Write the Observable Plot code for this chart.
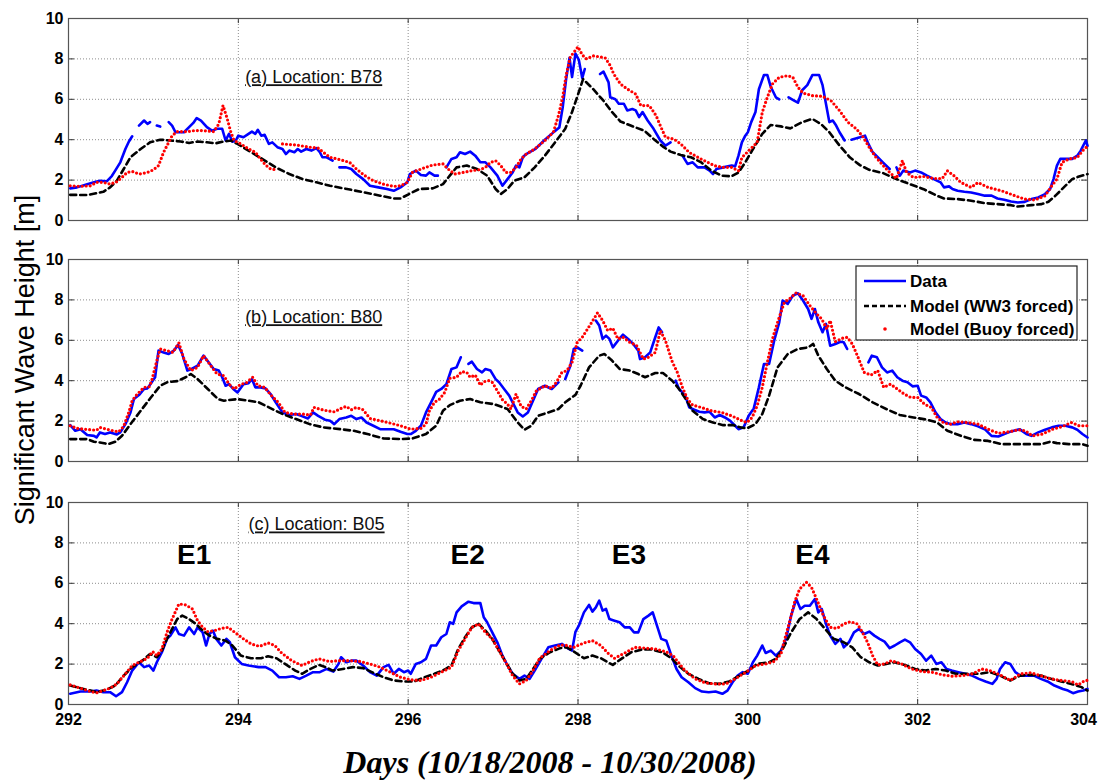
<!DOCTYPE html>
<html><head><meta charset="utf-8">
<script src="https://cdn.jsdelivr.net/npm/d3@7"></script>
<script src="https://cdn.jsdelivr.net/npm/@observablehq/plot@0.6"></script>
<style>
body{margin:0;background:#fff;}
#wrap{position:relative;width:1099px;height:780px;overflow:hidden;background:#fff;font-family:"Liberation Sans",Arial,sans-serif;}
#wrap svg.pan{position:absolute;left:0;}
</style></head><body><div id="wrap"></div>
<script>
const dayTicks=[292,294,296,298,300,302,304];
const heightTicks=[0,2,4,6,8,10];
const gridDays=[294,296,298,300,302];
const gridHeights=[2,4,6,8];
const seriesNames=["Data","Model (WW3 forced)","Model (Buoy forced)"];
const panelLabels=["(a) Location: B78","(b) Location: B80","(c) Location: B05"];
const eventNames=["E1","E2","E3","E4"];
const eventDays=[293.48,296.7,298.6,300.76];

// ---------- B78 ----------
const b78Data=[[292.02,1.59],[292.1,1.64],[292.22,1.8],[292.3,1.89],[292.37,1.97],[292.45,1.94],[292.51,2.2],[292.55,2.47],[292.61,2.88],[292.67,3.54],[292.71,3.9],[292.75,4.17],[292.79,null],
[292.83,4.7],[292.89,4.95],[292.93,4.78],[292.96,4.87],[293.0,null],
[293.04,4.7],[293.08,4.65],[293.13,null],
[293.18,4.87],[293.22,4.7],[293.26,4.37],[293.36,4.37],[293.42,4.62],[293.47,4.83],[293.51,5.07],[293.56,4.95],[293.63,4.62],[293.69,4.45],[293.75,4.54],[293.81,4.54],[293.85,3.96],[293.89,4.29],[293.93,3.9],[293.97,3.96],[294.0,4.2],[294.06,4.12],[294.12,4.29],[294.16,4.4],[294.2,4.29],[294.23,4.49],[294.27,4.2],[294.31,4.24],[294.36,3.79],[294.4,3.87],[294.46,3.63],[294.52,3.54],[294.56,3.29],[294.6,3.46],[294.66,3.38],[294.7,3.54],[294.74,3.41],[294.8,3.54],[294.86,3.46],[294.92,3.58],[294.96,3.38],[294.99,3.13],[295.04,3.13],[295.11,2.96],[295.15,null],
[295.19,2.63],[295.27,2.63],[295.33,2.55],[295.39,2.3],[295.47,2.05],[295.55,1.72],[295.65,1.64],[295.75,1.56],[295.83,1.47],[295.91,1.64],[295.99,1.89],[296.02,2.3],[296.09,2.47],[296.15,2.25],[296.21,2.22],[296.25,2.38],[296.31,2.22],[296.35,2.22],[296.4,null],
[296.45,2.63],[296.51,3.05],[296.57,3.13],[296.61,3.38],[296.67,3.29],[296.73,3.41],[296.79,3.21],[296.85,2.88],[296.91,2.88],[296.97,2.63],[297.05,2.22],[297.11,1.72],[297.17,2.05],[297.23,2.38],[297.27,2.72],[297.31,2.63],[297.35,3.13],[297.39,3.29],[297.5,3.55],[297.61,4.0],[297.72,4.4],[297.78,4.6],[297.82,5.6],[297.86,7.0],[297.9,8.05],[297.93,7.1],[297.97,8.26],[298.01,7.95],[298.05,7.05],[298.08,7.5],[298.12,null],
[298.26,7.25],[298.3,7.37],[298.36,6.84],[298.38,6.1],[298.44,6.0],[298.48,5.78],[298.54,5.78],[298.58,5.45],[298.64,5.52],[298.68,5.45],[298.72,5.12],[298.76,5.37],[298.82,4.95],[298.89,4.54],[298.97,3.96],[299.03,3.71],[299.09,3.87],[299.15,null],
[299.23,3.21],[299.29,2.8],[299.35,2.88],[299.41,2.63],[299.49,2.63],[299.55,2.47],[299.59,2.3],[299.63,2.55],[299.71,2.63],[299.81,2.72],[299.85,2.68],[299.89,3.21],[299.93,3.87],[299.97,4.2],[300.0,4.37],[300.04,4.87],[300.09,5.37],[300.13,6.5],[300.19,7.2],[300.23,7.2],[300.27,6.62],[300.33,6.1],[300.37,6.0],[300.42,null],
[300.48,6.1],[300.54,5.95],[300.59,5.83],[300.64,6.45],[300.7,6.7],[300.76,7.2],[300.84,7.2],[300.88,6.7],[300.92,5.78],[300.96,4.87],[301.0,4.95],[301.04,4.7],[301.08,4.37],[301.14,3.96],[301.18,null],
[301.22,4.0],[301.32,4.12],[301.38,4.2],[301.42,3.79],[301.47,3.38],[301.53,3.13],[301.59,2.88],[301.67,2.55],[301.71,null],
[301.75,2.63],[301.79,2.22],[301.83,2.47],[301.91,2.38],[301.97,2.47],[302.04,2.38],[302.11,2.22],[302.19,2.05],[302.27,1.89],[302.31,1.64],[302.37,1.69],[302.41,1.56],[302.47,1.47],[302.55,1.42],[302.63,1.39],[302.71,1.31],[302.79,1.23],[302.87,1.23],[302.94,1.09],[303.02,1.03],[303.1,0.94],[303.18,0.89],[303.26,0.92],[303.34,1.06],[303.42,1.14],[303.5,1.31],[303.56,1.56],[303.6,2.05],[303.64,2.72],[303.68,3.05],[303.76,3.05],[303.82,3.05],[303.88,3.21],[303.92,3.46],[303.98,3.96],[304.0,3.7]];
const b78WW3=[[292.02,1.27],[292.22,1.26],[292.41,1.42],[292.49,1.64],[292.57,1.97],[292.65,2.55],[292.73,3.13],[292.85,3.54],[292.96,3.87],[293.08,4.0],[293.2,3.96],[293.32,3.91],[293.42,3.84],[293.52,3.91],[293.63,3.87],[293.73,3.82],[293.83,3.91],[293.91,3.96],[293.99,3.79],[294.12,3.46],[294.28,3.05],[294.44,2.63],[294.6,2.3],[294.76,2.05],[294.92,1.89],[295.08,1.72],[295.28,1.56],[295.48,1.39],[295.67,1.23],[295.83,1.09],[295.91,1.09],[296.01,1.31],[296.13,1.56],[296.29,1.59],[296.41,1.8],[296.49,2.22],[296.57,2.63],[296.69,2.72],[296.81,2.55],[296.93,2.22],[297.03,1.56],[297.09,1.31],[297.17,1.56],[297.25,1.97],[297.37,2.14],[297.49,2.63],[297.61,3.21],[297.73,3.87],[297.85,4.54],[297.93,5.37],[298.01,6.36],[298.06,7.0],[298.18,6.5],[298.3,5.93],[298.4,5.37],[298.5,4.9],[298.62,4.7],[298.78,4.45],[298.89,4.04],[299.01,3.63],[299.09,3.41],[299.21,3.24],[299.33,3.13],[299.45,2.88],[299.57,2.47],[299.69,2.22],[299.81,2.19],[299.89,2.38],[299.97,2.88],[300.05,3.46],[300.17,4.29],[300.27,4.73],[300.39,4.66],[300.5,4.56],[300.64,4.87],[300.76,5.03],[300.86,4.78],[300.96,4.37],[301.08,3.71],[301.2,3.13],[301.32,2.74],[301.43,2.51],[301.59,2.35],[301.75,2.05],[301.91,1.8],[302.07,1.55],[302.23,1.22],[302.31,1.09],[302.47,1.06],[302.63,0.98],[302.79,0.86],[302.94,0.81],[303.1,0.76],[303.18,0.69],[303.34,0.76],[303.46,0.81],[303.54,0.93],[303.62,1.22],[303.7,1.55],[303.82,2.05],[303.9,2.18],[304.0,2.3]];
const b78Buoy=[[292.02,1.72],[292.14,1.69],[292.26,1.72],[292.33,1.89],[292.41,1.89],[292.49,1.8],[292.57,1.92],[292.63,2.14],[292.69,2.38],[292.75,2.43],[292.83,2.3],[292.93,2.38],[293.0,2.51],[293.06,2.72],[293.12,3.38],[293.18,3.87],[293.22,4.2],[293.28,4.4],[293.4,4.4],[293.48,4.45],[293.59,4.45],[293.71,4.4],[293.77,4.78],[293.82,5.7],[293.87,5.03],[293.91,4.4],[293.95,3.96],[294.03,3.79],[294.12,3.54],[294.2,3.38],[294.26,3.05],[294.32,2.75],[294.38,2.55],[294.43,2.52],[294.47,null],[294.52,3.79],[294.68,3.74],[294.84,3.63],[294.94,3.58],[295.0,3.38],[295.08,3.13],[295.2,3.01],[295.31,2.88],[295.39,2.55],[295.49,2.22],[295.59,1.97],[295.71,1.8],[295.83,1.69],[295.91,1.72],[295.99,1.89],[296.05,2.38],[296.17,2.58],[296.29,2.75],[296.41,2.8],[296.47,2.55],[296.55,2.3],[296.65,2.38],[296.75,2.47],[296.85,2.52],[296.91,2.63],[296.97,2.88],[297.03,2.96],[297.09,2.72],[297.15,2.38],[297.21,2.38],[297.27,2.63],[297.33,3.05],[297.39,3.29],[297.49,3.54],[297.61,3.96],[297.71,4.37],[297.77,5.2],[297.82,6.11],[297.86,7.19],[297.91,8.1],[297.97,8.43],[298.0,8.6],[298.05,8.2],[298.1,8.0],[298.18,8.15],[298.26,8.1],[298.32,8.05],[298.38,7.67],[298.42,7.26],[298.5,6.76],[298.58,6.51],[298.68,6.26],[298.74,5.69],[298.84,5.69],[298.92,5.19],[298.97,4.69],[299.03,4.12],[299.13,4.03],[299.21,3.79],[299.31,3.37],[299.45,3.04],[299.61,2.71],[299.71,2.63],[299.81,2.63],[299.89,2.46],[299.93,3.12],[300.03,3.54],[300.11,3.87],[300.17,5.36],[300.23,6.1],[300.29,6.76],[300.37,7.09],[300.47,7.17],[300.53,7.09],[300.59,6.6],[300.65,6.31],[300.76,6.18],[300.88,6.15],[300.98,5.93],[301.08,5.44],[301.18,4.86],[301.28,4.53],[301.36,4.12],[301.43,3.62],[301.51,3.12],[301.59,2.74],[301.67,2.38],[301.75,2.08],[301.82,2.96],[301.87,2.38],[301.95,2.13],[302.07,2.18],[302.19,2.08],[302.29,2.08],[302.35,2.46],[302.43,2.21],[302.51,1.88],[302.63,1.64],[302.71,1.88],[302.83,1.64],[302.99,1.47],[303.15,1.22],[303.26,1.06],[303.38,1.02],[303.5,1.22],[303.58,1.72],[303.64,2.05],[303.7,2.88],[303.78,3.04],[303.88,3.12],[303.96,3.54],[304.0,3.67]];

// ---------- B80 ----------
const b80Data=[[292.02,1.8],[292.08,1.52],[292.14,1.6],[292.22,1.31],[292.3,1.27],[292.33,1.19],[292.37,1.44],[292.43,1.36],[292.49,1.44],[292.57,1.34],[292.61,1.44],[292.67,1.85],[292.73,2.43],[292.77,3.09],[292.83,3.29],[292.89,3.59],[292.93,3.62],[292.98,3.92],[293.02,4.17],[293.06,5.49],[293.12,5.4],[293.18,5.32],[293.24,5.49],[293.29,5.77],[293.34,5.32],[293.4,4.5],[293.45,4.58],[293.52,4.74],[293.59,5.24],[293.65,4.91],[293.71,4.58],[293.77,4.5],[293.81,4.17],[293.85,3.75],[293.89,3.83],[293.94,3.59],[293.99,3.42],[294.06,3.83],[294.12,3.88],[294.16,4.08],[294.2,3.67],[294.26,3.67],[294.32,3.62],[294.38,3.34],[294.44,2.93],[294.52,2.43],[294.6,2.3],[294.68,2.35],[294.74,2.26],[294.82,2.13],[294.88,2.43],[294.94,2.26],[295.02,2.07],[295.08,2.02],[295.13,1.85],[295.19,2.1],[295.27,2.18],[295.33,2.26],[295.39,2.1],[295.45,2.18],[295.51,1.93],[295.59,1.77],[295.67,1.6],[295.75,1.6],[295.83,1.6],[295.91,1.47],[295.99,1.36],[296.03,1.36],[296.09,1.52],[296.15,1.77],[296.21,2.43],[296.27,2.93],[296.33,3.45],[296.39,3.59],[296.45,3.83],[296.51,4.58],[296.57,4.66],[296.62,5.16],[296.66,null],
[296.71,4.83],[296.75,4.94],[296.81,4.58],[296.87,4.41],[296.91,4.58],[296.97,4.5],[297.03,4.08],[297.07,3.92],[297.13,3.59],[297.19,3.26],[297.23,2.93],[297.29,2.43],[297.35,2.23],[297.41,2.43],[297.47,3.01],[297.53,3.59],[297.61,3.75],[297.69,3.59],[297.77,3.92],[297.81,null],
[297.85,4.08],[297.91,4.74],[297.95,5.57],[297.99,5.65],[298.05,5.49],[298.12,null],
[298.21,6.98],[298.25,6.73],[298.29,6.07],[298.33,6.23],[298.37,6.07],[298.41,5.65],[298.47,5.98],[298.53,6.28],[298.59,6.07],[298.65,5.82],[298.71,5.49],[298.73,5.07],[298.79,5.16],[298.85,5.4],[298.91,6.15],[298.95,6.64],[298.99,6.4],[299.07,null],
[299.15,4.0],[299.19,3.59],[299.23,3.42],[299.27,3.17],[299.31,2.68],[299.37,2.56],[299.43,2.46],[299.49,2.43],[299.55,2.46],[299.61,2.18],[299.67,2.3],[299.73,2.18],[299.79,2.02],[299.85,1.77],[299.89,1.6],[299.95,1.69],[300.01,2.26],[300.07,2.63],[300.13,3.67],[300.19,4.83],[300.25,4.83],[300.31,5.98],[300.37,6.89],[300.41,7.97],[300.47,7.8],[300.53,8.21],[300.59,8.33],[300.65,7.97],[300.71,7.55],[300.75,7.06],[300.79,7.55],[300.83,6.89],[300.88,6.4],[300.92,6.81],[300.97,5.73],[301.03,5.82],[301.09,5.93],[301.13,5.9],[301.17,5.57],[301.22,null],
[301.42,4.91],[301.46,5.24],[301.52,5.16],[301.58,4.66],[301.64,4.41],[301.7,4.5],[301.76,4.17],[301.82,4.0],[301.88,3.92],[301.94,3.72],[302.0,3.75],[302.04,3.26],[302.1,3.17],[302.15,2.93],[302.21,2.43],[302.27,2.1],[302.33,1.93],[302.39,1.85],[302.47,1.85],[302.55,1.93],[302.63,1.85],[302.71,1.74],[302.79,1.6],[302.87,1.27],[302.95,1.24],[303.02,1.36],[303.1,1.49],[303.2,1.6],[303.28,1.36],[303.34,1.27],[303.42,1.44],[303.5,1.57],[303.58,1.69],[303.66,1.77],[303.74,1.77],[303.82,1.69],[303.88,1.57],[303.94,1.36],[304.0,1.19]];
const b80WW3=[[292.02,1.11],[292.22,1.11],[292.3,0.98],[292.37,0.94],[292.47,0.86],[292.55,0.98],[292.63,1.27],[292.73,1.85],[292.85,2.51],[292.97,3.17],[293.08,3.75],[293.16,3.92],[293.28,3.98],[293.38,4.17],[293.44,4.33],[293.52,4.08],[293.64,3.59],[293.76,3.09],[293.83,3.01],[293.99,3.09],[294.12,3.01],[294.24,2.93],[294.36,2.68],[294.52,2.35],[294.68,2.1],[294.84,1.85],[295.0,1.69],[295.2,1.6],[295.36,1.52],[295.52,1.36],[295.71,1.14],[295.91,1.11],[296.05,1.14],[296.21,1.36],[296.33,1.77],[296.41,2.51],[296.49,2.79],[296.61,3.01],[296.73,3.09],[296.85,2.93],[297.01,2.84],[297.17,2.6],[297.29,1.93],[297.37,1.57],[297.45,1.77],[297.53,2.26],[297.65,2.43],[297.77,2.6],[297.85,2.93],[297.97,3.3],[298.03,3.75],[298.13,4.66],[298.25,5.24],[298.31,5.32],[298.39,5.04],[298.49,4.58],[298.61,4.5],[298.71,4.33],[298.79,4.17],[298.91,4.38],[299.0,4.38],[299.11,4.0],[299.19,3.59],[299.27,3.09],[299.35,2.51],[299.47,2.1],[299.59,1.93],[299.71,1.8],[299.83,1.8],[299.91,1.69],[299.99,1.64],[300.09,1.85],[300.17,2.35],[300.25,3.26],[300.35,4.66],[300.47,5.32],[300.59,5.57],[300.71,5.65],[300.77,5.82],[300.83,5.24],[300.93,4.58],[301.03,4.0],[301.15,3.67],[301.31,3.34],[301.47,2.93],[301.63,2.6],[301.79,2.3],[301.95,2.18],[302.11,2.07],[302.23,1.93],[302.35,1.52],[302.51,1.27],[302.67,1.07],[302.83,1.02],[302.99,0.86],[303.15,0.86],[303.3,0.86],[303.46,0.86],[303.56,0.98],[303.64,0.91],[303.78,0.86],[303.94,0.86],[304.0,0.78]];
const b80Buoy=[[292.02,1.77],[292.1,1.64],[292.18,1.6],[292.26,1.57],[292.33,1.55],[292.37,1.69],[292.45,1.6],[292.53,1.52],[292.59,1.47],[292.65,1.74],[292.71,2.43],[292.75,3.01],[292.81,3.34],[292.89,3.67],[292.95,3.7],[292.98,4.0],[293.04,4.99],[293.08,5.57],[293.16,5.49],[293.23,5.4],[293.3,5.87],[293.36,5.07],[293.44,4.5],[293.52,4.66],[293.59,5.24],[293.69,4.66],[293.75,4.33],[293.83,4.25],[293.89,3.83],[293.95,3.59],[294.03,3.83],[294.09,3.88],[294.17,4.17],[294.23,3.75],[294.31,3.67],[294.39,3.26],[294.47,2.93],[294.55,2.43],[294.65,2.35],[294.75,2.35],[294.85,2.3],[294.89,2.68],[294.95,2.6],[295.05,2.51],[295.13,2.46],[295.21,2.63],[295.27,2.73],[295.33,2.56],[295.39,2.68],[295.47,2.56],[295.55,2.13],[295.67,2.02],[295.79,1.9],[295.91,1.77],[296.03,1.6],[296.15,1.64],[296.21,1.85],[296.25,2.51],[296.31,2.93],[296.37,3.09],[296.43,3.42],[296.49,4.12],[296.57,4.17],[296.63,4.45],[296.69,4.41],[296.73,4.17],[296.79,4.28],[296.85,3.78],[296.89,3.95],[296.95,4.0],[296.99,3.92],[297.05,3.5],[297.11,3.06],[297.17,2.84],[297.21,2.6],[297.27,3.34],[297.33,2.73],[297.39,2.6],[297.45,3.01],[297.51,3.5],[297.61,3.75],[297.69,3.62],[297.75,3.95],[297.81,4.41],[297.87,4.5],[297.93,4.91],[297.99,5.9],[298.05,6.15],[298.15,6.81],[298.23,7.36],[298.29,6.98],[298.35,6.48],[298.41,6.6],[298.47,6.07],[298.53,6.15],[298.61,5.9],[298.69,5.74],[298.77,5.07],[298.83,5.16],[298.91,5.4],[298.97,6.48],[299.03,5.98],[299.11,4.94],[299.17,4.41],[299.23,3.67],[299.29,3.09],[299.35,2.79],[299.45,2.68],[299.57,2.51],[299.69,2.43],[299.81,2.26],[299.93,2.02],[299.99,1.93],[300.05,2.18],[300.11,2.76],[300.17,3.67],[300.23,4.91],[300.29,6.07],[300.35,6.89],[300.43,7.88],[300.49,8.05],[300.57,8.35],[300.65,8.21],[300.73,7.72],[300.81,7.31],[300.87,7.06],[300.93,6.56],[300.97,6.98],[301.03,5.93],[301.11,6.1],[301.17,6.15],[301.23,5.82],[301.29,5.24],[301.37,4.41],[301.45,4.28],[301.53,4.5],[301.6,3.67],[301.68,3.83],[301.76,3.59],[301.84,3.34],[301.92,3.17],[302.0,3.17],[302.08,2.84],[302.16,2.68],[302.23,2.18],[302.31,1.9],[302.39,1.85],[302.47,1.97],[302.59,1.93],[302.71,1.85],[302.83,1.6],[302.95,1.4],[303.07,1.47],[303.19,1.57],[303.27,1.52],[303.35,1.27],[303.47,1.36],[303.59,1.6],[303.71,1.74],[303.81,1.93],[303.9,1.77],[304.0,1.77]];

// ---------- B05 ----------
const b05Data=[[292.02,0.53],[292.14,0.64],[292.26,0.64],[292.33,0.69],[292.41,0.61],[292.49,0.61],[292.56,0.41],[292.63,0.61],[292.69,1.1],[292.75,1.68],[292.83,2.09],[292.89,1.85],[292.95,1.93],[293.0,1.68],[293.04,2.09],[293.1,2.59],[293.16,3.25],[293.2,3.41],[293.26,3.82],[293.3,3.49],[293.36,3.41],[293.42,3.82],[293.48,3.49],[293.52,3.82],[293.58,3.57],[293.62,2.92],[293.66,3.49],[293.7,3.66],[293.74,3.25],[293.8,2.92],[293.86,3.25],[293.9,3.08],[293.96,2.34],[294.04,2.01],[294.12,1.93],[294.24,1.85],[294.32,1.85],[294.4,1.68],[294.48,1.35],[294.56,1.35],[294.64,1.4],[294.72,1.27],[294.8,1.43],[294.88,1.6],[294.96,1.6],[295.04,1.76],[295.12,1.63],[295.18,2.01],[295.21,2.34],[295.27,2.09],[295.33,2.17],[295.39,2.17],[295.47,1.93],[295.55,1.6],[295.63,1.43],[295.71,1.85],[295.77,1.96],[295.83,1.52],[295.89,1.76],[295.95,1.6],[296.0,1.68],[296.03,1.52],[296.09,2.01],[296.15,2.09],[296.21,2.26],[296.27,2.92],[296.33,2.92],[296.39,3.33],[296.45,3.49],[296.49,4.07],[296.53,3.99],[296.57,4.56],[296.63,4.86],[296.71,5.09],[296.77,5.02],[296.85,5.02],[296.89,4.32],[296.93,4.07],[296.99,3.57],[297.05,3.08],[297.11,2.42],[297.17,1.93],[297.23,1.52],[297.31,1.27],[297.37,1.43],[297.43,1.27],[297.49,1.68],[297.57,2.26],[297.65,2.83],[297.73,2.92],[297.81,3.0],[297.89,2.75],[297.93,2.67],[297.97,3.6],[298.01,3.9],[298.07,4.56],[298.13,4.93],[298.17,4.6],[298.21,4.81],[298.25,5.14],[298.29,4.65],[298.33,4.73],[298.37,4.23],[298.43,4.15],[298.49,4.07],[298.55,3.82],[298.61,3.82],[298.66,3.57],[298.71,3.57],[298.77,4.23],[298.83,4.4],[298.88,4.56],[298.93,3.9],[298.98,3.25],[299.04,3.16],[299.1,2.42],[299.16,1.76],[299.22,1.35],[299.3,1.1],[299.38,0.81],[299.46,0.64],[299.54,0.61],[299.62,0.64],[299.7,0.53],[299.76,0.69],[299.82,1.1],[299.88,1.43],[299.94,1.6],[300.0,1.52],[300.06,2.09],[300.11,2.42],[300.17,2.92],[300.21,2.55],[300.27,2.67],[300.33,2.42],[300.39,2.67],[300.45,3.25],[300.51,4.4],[300.57,5.22],[300.62,4.73],[300.67,4.89],[300.73,4.89],[300.79,5.22],[300.83,4.56],[300.87,4.73],[300.92,3.99],[300.97,3.41],[301.03,3.0],[301.09,3.25],[301.13,2.83],[301.19,3.08],[301.25,3.57],[301.31,3.74],[301.37,3.49],[301.43,3.61],[301.49,3.41],[301.55,3.25],[301.61,3.11],[301.67,2.79],[301.73,2.92],[301.79,3.08],[301.85,3.21],[301.91,3.08],[301.97,2.75],[302.04,2.5],[302.1,2.17],[302.16,2.42],[302.22,2.01],[302.28,2.09],[302.34,1.76],[302.4,1.68],[302.48,1.6],[302.56,1.52],[302.64,1.43],[302.72,1.27],[302.8,1.14],[302.88,1.02],[302.93,1.27],[302.97,1.76],[303.03,2.09],[303.09,2.01],[303.15,1.6],[303.21,1.43],[303.29,1.43],[303.37,1.43],[303.45,1.27],[303.53,1.14],[303.61,0.94],[303.71,0.77],[303.77,0.69],[303.83,0.56],[303.89,0.64],[303.95,0.69],[304.0,0.77]];
const b05WW3=[[292.02,0.94],[292.14,0.81],[292.26,0.69],[292.33,0.61],[292.45,0.74],[292.55,0.94],[292.65,1.43],[292.75,1.85],[292.87,2.17],[292.96,2.5],[293.04,2.34],[293.1,2.67],[293.16,3.25],[293.22,3.74],[293.28,4.23],[293.34,4.4],[293.42,4.23],[293.5,3.99],[293.58,3.66],[293.66,3.41],[293.75,3.25],[293.85,3.16],[293.93,2.92],[294.03,2.42],[294.15,2.29],[294.27,2.29],[294.35,2.39],[294.45,2.29],[294.55,2.01],[294.67,1.68],[294.75,1.52],[294.85,1.76],[294.95,1.96],[295.03,1.85],[295.11,1.68],[295.23,1.76],[295.35,1.85],[295.47,1.8],[295.59,1.57],[295.71,1.35],[295.83,1.19],[295.95,1.14],[296.07,1.14],[296.19,1.35],[296.31,1.52],[296.43,1.73],[296.51,1.93],[296.59,2.75],[296.67,3.33],[296.75,3.82],[296.83,3.99],[296.91,3.66],[296.99,3.25],[297.07,2.67],[297.15,2.09],[297.23,1.52],[297.31,1.19],[297.39,1.27],[297.47,1.76],[297.55,2.26],[297.67,2.59],[297.79,2.79],[297.87,2.83],[297.95,2.62],[298.07,2.29],[298.17,2.42],[298.27,2.29],[298.41,1.96],[298.51,2.26],[298.63,2.59],[298.75,2.72],[298.87,2.72],[298.99,2.59],[299.1,2.29],[299.18,1.93],[299.3,1.52],[299.42,1.27],[299.54,1.05],[299.66,1.02],[299.78,1.14],[299.9,1.43],[300.01,1.68],[300.11,2.01],[300.25,2.09],[300.33,2.26],[300.41,2.75],[300.51,3.57],[300.61,4.23],[300.71,4.56],[300.81,4.23],[300.91,3.74],[301.01,3.25],[301.13,3.08],[301.23,2.83],[301.33,2.34],[301.43,2.09],[301.53,1.93],[301.63,2.01],[301.73,2.09],[301.85,1.96],[301.97,1.76],[302.09,1.68],[302.21,1.76],[302.33,1.68],[302.45,1.52],[302.57,1.52],[302.73,1.52],[302.85,1.6],[302.97,1.43],[303.09,1.19],[303.21,1.43],[303.33,1.47],[303.45,1.43],[303.57,1.27],[303.69,1.14],[303.81,1.02],[303.93,0.86],[304.0,0.69]];
const b05Buoy=[[292.02,0.97],[292.14,0.81],[292.26,0.64],[292.33,0.58],[292.41,0.69],[292.49,0.81],[292.57,1.02],[292.67,1.52],[292.75,1.93],[292.85,2.13],[292.93,2.29],[292.99,2.62],[293.04,2.42],[293.1,2.75],[293.16,3.57],[293.22,4.23],[293.3,4.98],[293.38,4.93],[293.46,4.73],[293.52,4.15],[293.58,3.82],[293.64,3.61],[293.72,3.66],[293.8,3.77],[293.88,3.82],[293.96,3.57],[294.06,3.25],[294.15,3.0],[294.25,2.88],[294.35,3.05],[294.43,2.92],[294.51,2.55],[294.63,2.17],[294.75,1.93],[294.85,2.13],[294.95,2.26],[295.07,2.13],[295.19,2.17],[295.31,2.17],[295.43,2.13],[295.55,2.01],[295.67,1.85],[295.79,1.6],[295.91,1.35],[296.03,1.22],[296.15,1.19],[296.27,1.35],[296.39,1.6],[296.51,1.85],[296.59,2.67],[296.67,3.25],[296.75,3.82],[296.83,3.99],[296.91,3.57],[296.99,3.25],[297.07,2.67],[297.15,2.09],[297.23,1.43],[297.31,1.02],[297.39,1.19],[297.47,1.68],[297.55,2.29],[297.67,2.67],[297.79,2.95],[297.87,2.92],[297.95,2.83],[298.07,3.05],[298.17,3.16],[298.27,2.92],[298.35,2.55],[298.43,2.29],[298.55,2.55],[298.67,2.83],[298.79,2.79],[298.91,2.75],[299.03,2.62],[299.12,2.42],[299.18,2.09],[299.26,1.68],[299.38,1.27],[299.5,1.07],[299.62,1.02],[299.74,1.02],[299.82,1.19],[299.91,1.43],[299.99,1.63],[300.09,1.93],[300.21,2.01],[300.31,2.13],[300.39,2.5],[300.43,3.16],[300.49,4.07],[300.55,5.06],[300.61,5.72],[300.69,6.05],[300.75,5.8],[300.81,5.22],[300.89,4.4],[300.97,3.82],[301.05,3.77],[301.13,3.99],[301.21,4.1],[301.29,3.99],[301.35,3.57],[301.41,3.08],[301.47,2.42],[301.53,1.96],[301.61,2.01],[301.69,2.17],[301.81,2.01],[301.93,1.76],[302.05,1.63],[302.17,1.6],[302.29,1.47],[302.41,1.4],[302.53,1.43],[302.65,1.52],[302.75,1.76],[302.85,1.68],[302.97,1.47],[303.09,1.19],[303.21,1.52],[303.33,1.57],[303.45,1.43],[303.57,1.27],[303.69,1.19],[303.81,1.14],[303.89,0.97],[303.97,1.19],[304.0,1.19]];

const panels=[
  {data:b78Data, ww3:b78WW3, buoy:b78Buoy, label:panelLabels[0], labelAt:[294.08,7.08], top:0, bottom:false, events:false},
  {data:b80Data, ww3:b80WW3, buoy:b80Buoy, label:panelLabels[1], labelAt:[294.08,7.13], top:241, bottom:false, events:false},
  {data:b05Data, ww3:b05WW3, buoy:b05Buoy, label:panelLabels[2], labelAt:[294.12,8.9], top:484, bottom:true, events:true}
];

const FONT='"Liberation Sans", Arial, Helvetica, sans-serif';
const gx=d=>d[0], gy=d=>(d[1]==null?NaN:d[1]);
const wrap=document.getElementById("wrap");

panels.forEach(p=>{
  const mb=p.bottom?34:10;
  const marks=[
    Plot.ruleX(gridDays,{x:d=>d,stroke:"#8c8c8c",strokeDasharray:"1,2",strokeWidth:1}),
    Plot.ruleY(gridHeights,{y:d=>d,stroke:"#8c8c8c",strokeDasharray:"1,2",strokeWidth:1}),
    Plot.ruleX(dayTicks,{x:d=>d,y1:0,y2:0.25,stroke:"#333",strokeWidth:1}),
    Plot.ruleX(dayTicks,{x:d=>d,y1:9.75,y2:10,stroke:"#333",strokeWidth:1}),
    Plot.ruleY(heightTicks,{y:d=>d,x1:292,x2:292.07,stroke:"#333",strokeWidth:1}),
    Plot.ruleY(heightTicks,{y:d=>d,x1:303.93,x2:304,stroke:"#333",strokeWidth:1}),
    Plot.frame({stroke:"#555",strokeWidth:1.2}),
    Plot.line(p.data,{x:gx,y:gy,stroke:"#0000ff",strokeWidth:2.6,strokeLinejoin:"round",strokeLinecap:"round"}),
    Plot.line(p.ww3,{x:gx,y:gy,stroke:"#000",strokeWidth:2.6,strokeDasharray:"6,4"}),
    Plot.line(p.buoy,{x:gx,y:gy,stroke:"#ff0000",strokeWidth:3.2,strokeDasharray:"0,4",strokeLinecap:"round"}),
    Plot.text([p.label],{x:()=>p.labelAt[0],y:()=>p.labelAt[1],text:d=>d,textAnchor:"start",fontSize:18,fontWeight:"normal",fill:"#111"})
  ];
  if(p.events){
    marks.push(Plot.text(eventNames,{x:(d,i)=>eventDays[i],y:()=>7.4,text:d=>d,fontSize:28,fontWeight:"bold",fill:"#000"}));
  }
  const svg=Plot.plot({
    width:1099,height:18+202+mb,marginTop:18,marginBottom:mb,marginLeft:68,marginRight:12,
    style:{fontFamily:FONT,fontSize:"16px",fontWeight:"bold",color:"#000",background:"transparent",overflow:"visible"},
    x:{domain:[292,304],ticks:dayTicks,tickSize:0,tickPadding:9,label:null,axis:p.bottom?"bottom":null,tickFormat:d=>String(d)},
    y:{domain:[0,10],ticks:heightTicks,tickSize:0,tickPadding:5,label:null},
    marks
  });
  svg.classList.add("pan");
  svg.style.top=p.top+"px";
  const tg=svg.querySelectorAll('g[aria-label="text"]');
  if(tg.length) tg[0].querySelectorAll("text").forEach(t=>{t.style.textDecoration="underline";});
  if(p.bottom){
    const xt=svg.querySelectorAll('g[aria-label="x-axis tick label"] text');
    if(xt.length) xt[xt.length-1].setAttribute("dx","-4");
  }
  wrap.appendChild(svg);
});

// legend
const lg=d3.select(wrap).append("svg").attr("width",224).attr("height",77)
  .style("position","absolute").style("left","855px").style("top","265px");
lg.append("rect").attr("x",1).attr("y",1).attr("width",221).attr("height",74).attr("fill","#fff").attr("stroke","#222").attr("stroke-width",1.2);
const rowsY=[16,41,64];
lg.append("line").attr("x1",9).attr("x2",51).attr("y1",rowsY[0]).attr("y2",rowsY[0]).attr("stroke","#0000ff").attr("stroke-width",2.6);
lg.append("line").attr("x1",9).attr("x2",51).attr("y1",rowsY[1]).attr("y2",rowsY[1]).attr("stroke","#000").attr("stroke-width",2.6).attr("stroke-dasharray","5,3");
lg.append("circle").attr("cx",30).attr("cy",rowsY[2]).attr("r",1.8).attr("fill","#ff0000");
seriesNames.forEach((s,i)=>{
  lg.append("text").attr("x",55).attr("y",rowsY[i]).attr("dy","0.36em").text(s)
    .style("font-family",FONT).style("font-size","17px").style("font-weight","bold").attr("fill","#000");
});

// axis titles
const tt=d3.select(wrap).append("svg").attr("width",1099).attr("height",780)
  .style("position","absolute").style("left","0").style("top","0").style("pointer-events","none");
tt.append("text").attr("transform","translate(34,360) rotate(-90)").attr("text-anchor","middle")
  .style("font-family",FONT).style("font-size","27px").attr("fill","#000").text("Significant Wave Height [m]");
tt.append("text").attr("x",550).attr("y",773).attr("text-anchor","middle")
  .style("font-family",'"Liberation Serif","Times New Roman",serif').style("font-size","32px").style("font-weight","bold").style("font-style","italic")
  .attr("fill","#000").text("Days (10/18/2008 - 10/30/2008)");
</script></body></html>
